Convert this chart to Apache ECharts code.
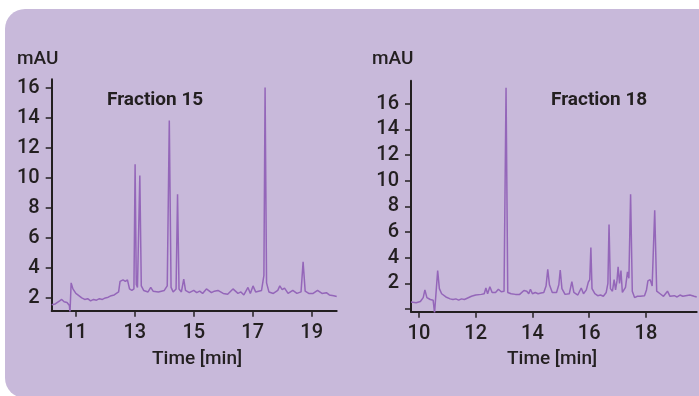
<!DOCTYPE html>
<html>
<head>
<meta charset="utf-8">
<script src="https://cdn.jsdelivr.net/npm/echarts@6/dist/echarts.min.js"></script>
<style>
html,body{margin:0;padding:0;background:#ffffff;}
#chart{width:699px;height:396px;}
</style>
</head>
<body>
<div id="chart"></div>
<script>
// ---- Data: Fraction 15 ----
var f15Time = [10.18,10.3,10.45,10.52,10.6,10.7,10.78,10.8,10.84,10.9,11.0,11.1,11.2,11.3,11.4,11.5,11.6,11.7,11.8,11.9,12.0,12.1,12.2,12.3,12.45,12.5,12.6,12.68,12.75,12.82,12.9,12.97,13.01,13.05,13.09,13.17,13.22,13.3,13.45,13.54,13.62,13.8,14.0,14.1,14.17,14.23,14.3,14.4,14.45,14.5,14.58,14.66,14.72,14.85,15.0,15.1,15.2,15.3,15.43,15.6,15.7,15.82,16.0,16.15,16.33,16.5,16.6,16.7,16.84,16.92,17.01,17.1,17.3,17.38,17.42,17.47,17.55,17.7,17.85,17.92,18.0,18.08,18.2,18.36,18.5,18.64,18.71,18.78,18.9,19.05,19.2,19.35,19.5,19.6,19.75,19.85];
var f15Abs  = [1.55,1.6,1.8,1.9,1.75,1.7,1.5,1.0,3.0,2.6,2.3,2.15,2.0,1.9,1.95,1.8,1.9,1.85,1.95,1.9,2.0,2.05,2.15,2.2,2.4,3.1,3.2,3.1,3.2,2.6,2.5,2.6,10.9,2.9,2.7,10.15,2.8,2.5,2.4,2.7,2.45,2.4,2.5,2.8,13.8,2.7,2.4,2.6,8.9,2.6,2.4,3.25,2.5,2.35,2.5,2.35,2.45,2.3,2.6,2.35,2.45,2.5,2.3,2.25,2.6,2.3,2.4,2.2,2.7,2.3,2.8,2.4,2.5,3.5,16.0,3.0,2.4,2.3,2.5,2.8,2.55,2.65,2.3,2.5,2.3,2.4,4.4,2.45,2.3,2.3,2.5,2.3,2.35,2.2,2.15,2.1];
var f15XTicks = [11,13,15,17,19];
var f15YTicks = [2,4,6,8,10,12,14,16];

// ---- Data: Fraction 18 ----
var f18Time = [9.72,9.9,10.05,10.15,10.21,10.28,10.4,10.5,10.55,10.62,10.66,10.72,10.8,10.95,11.1,11.2,11.3,11.4,11.5,11.6,11.7,11.85,12.0,12.2,12.3,12.36,12.42,12.5,12.58,12.7,12.8,12.9,13.0,13.07,13.13,13.25,13.4,13.55,13.7,13.8,13.87,13.93,14.0,14.1,14.2,14.3,14.4,14.48,14.54,14.6,14.7,14.85,14.93,14.98,15.04,15.15,15.3,15.39,15.46,15.6,15.72,15.8,15.9,15.97,16.02,16.06,16.1,16.2,16.3,16.4,16.5,16.6,16.66,16.7,16.75,16.82,16.88,16.93,16.98,17.02,17.07,17.12,17.17,17.28,17.35,17.4,17.46,17.52,17.6,17.7,17.8,17.95,18.02,18.07,18.15,18.22,18.31,18.38,18.5,18.62,18.76,18.85,19.0,19.1,19.2,19.3,19.4,19.55,19.7,19.79];
var f18Abs  = [0.55,0.5,0.6,0.9,1.5,0.9,0.75,0.7,-0.3,-0.3,3.0,1.6,1.2,0.95,0.8,0.75,0.8,0.7,0.8,0.75,0.85,1.0,1.1,1.15,1.2,1.65,1.2,1.75,1.3,1.3,1.55,1.35,1.4,17.25,1.3,1.2,1.15,1.15,1.45,1.4,1.2,1.55,1.2,1.3,1.2,1.25,1.3,1.8,3.1,1.9,1.3,1.3,1.9,3.05,1.6,1.15,1.2,2.15,1.3,1.1,1.65,1.2,1.5,2.1,2.3,4.8,1.6,1.2,1.05,1.1,1.0,1.3,2.0,6.6,1.6,1.4,2.3,1.5,2.2,3.3,2.0,3.0,1.3,1.7,2.9,2.4,8.95,1.4,0.9,1.0,1.0,1.05,1.5,2.2,2.3,1.8,7.7,1.4,1.2,1.0,1.4,1.0,1.05,0.95,1.1,1.0,1.05,1.1,1.0,0.95];
var f18XTicks = [10,12,14,16,18];
var f18YTicks = [0,2,4,6,8,10,12,14,16];
var f18YLabels = [2,4,6,8,10,12,14,16];

var titles = ['Fraction 15','Fraction 18'];
var yName = 'mAU';
var xName = 'Time [min]';

function pairs(xs, ys){ return xs.map(function(x,i){ return [x, ys[i]]; }); }

var FONT = 'Roboto,"Liberation Sans",sans-serif';
var INK = '#231f20';
var LINE = '#9466b9';
var PANEL = '#c8b9da';

function xAxisCfg(idx, min, max, ticks){
  return {
    type:'value', gridIndex: idx, min:min, max:max,
    axisLine:{show:true, onZero:false, lineStyle:{color:INK, width:2}},
    axisTick:{show:true, length:6, lineStyle:{color:INK, width:1.5}, customValues:ticks},
    axisLabel:{color:INK, fontFamily:FONT, fontSize:20, fontWeight:500, margin:12, customValues:ticks},
    splitLine:{show:false}
  };
}
function yAxisCfg(idx, min, max, ticks, labels){
  return {
    type:'value', gridIndex: idx, min:min, max:max,
    axisLine:{show:true, onZero:false, lineStyle:{color:INK, width:2}},
    axisTick:{show:true, length:6, lineStyle:{color:INK, width:1.5}, customValues:ticks},
    axisLabel:{color:INK, fontFamily:FONT, fontSize:20, fontWeight:500, margin:12, customValues:labels},
    splitLine:{show:false}
  };
}

var chart = echarts.init(document.getElementById('chart'), null, {renderer:'canvas'});
chart.setOption({
  animation:false,
  backgroundColor:'#ffffff',
  graphic:[
    {type:'rect', z:-100, shape:{x:5, y:9, width:720, height:389, r:20}, style:{fill:PANEL}},
    {type:'text', left:17, top:50, style:{text:yName, fill:INK, font:'500 19px '+FONT}},
    {type:'text', left:372, top:50, style:{text:yName, fill:INK, font:'500 19px '+FONT}},
    {type:'text', left:107, top:91, style:{text:titles[0], fill:INK, font:'bold 19px '+FONT}},
    {type:'text', left:551, top:91, style:{text:titles[1], fill:INK, font:'bold 19px '+FONT}},
    {type:'text', left:152, top:350, style:{text:xName, fill:INK, font:'500 19px '+FONT}},
    {type:'text', left:507, top:350, style:{text:xName, fill:INK, font:'500 19px '+FONT}}
  ],
  grid:[
    {left:51.7, top:79.3, width:285, height:231.4, containLabel:false},
    {left:411, top:80.7, width:285.7, height:231, containLabel:false}
  ],
  xAxis:[
    xAxisCfg(0, 10.18, 19.85, f15XTicks),
    xAxisCfg(1, 9.72, 19.79, f18XTicks)
  ],
  yAxis:[
    yAxisCfg(0, 1.15, 16.55, f15YTicks, f15YTicks),
    yAxisCfg(1, -0.2, 17.8, f18YTicks, f18YLabels)
  ],
  series:[
    {type:'line', xAxisIndex:0, yAxisIndex:0, data:pairs(f15Time,f15Abs), showSymbol:false, clip:true,
     lineStyle:{color:LINE, width:1.5}, itemStyle:{color:LINE}},
    {type:'line', xAxisIndex:1, yAxisIndex:1, data:pairs(f18Time,f18Abs), showSymbol:false, clip:true,
     lineStyle:{color:LINE, width:1.5}, itemStyle:{color:LINE}}
  ]
});
</script>
</body>
</html>
